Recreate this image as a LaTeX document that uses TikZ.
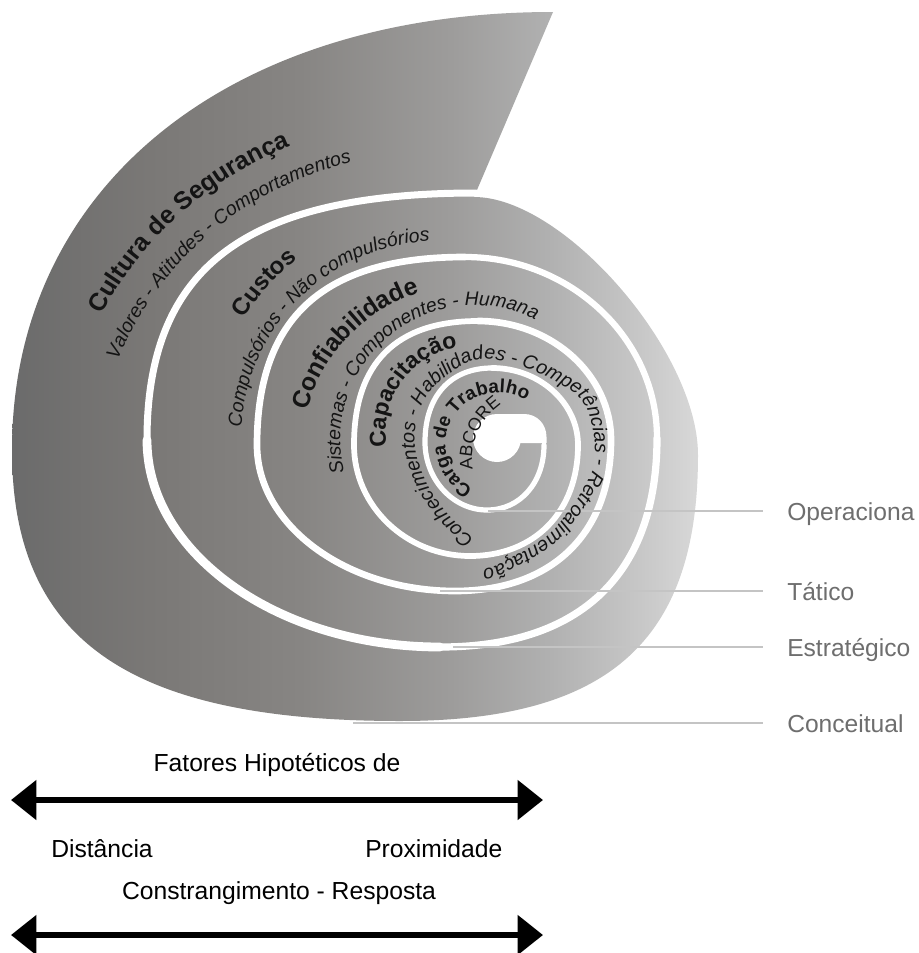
\documentclass[tikz,border=0pt]{standalone}
\usepackage{fontspec}
\setmainfont{Liberation Sans}
\usetikzlibrary{calc,decorations.text,arrows.meta}
\definecolor{gA}{HTML}{6B6B6B}
\definecolor{gB}{HTML}{7A7876}
\definecolor{gC}{HTML}{878583}
\definecolor{gD}{HTML}{9D9C9B}
\definecolor{gE}{HTML}{B0B0B0}
\definecolor{gF}{HTML}{C8C8C8}
\definecolor{gG}{HTML}{D8D8D8}
\definecolor{labgray}{HTML}{6E6E6E}
\definecolor{linegray}{HTML}{C4C4C4}
\definecolor{ink}{HTML}{141414}
\pgfdeclarehorizontalshading{spiralgray}{100bp}{color(0bp)=(gA); color(25bp)=(gA); color(35bp)=(gB); color(46bp)=(gC); color(57bp)=(gD); color(64bp)=(gE); color(71bp)=(gF); color(75bp)=(gG); color(100bp)=(gG)}
% quarter of an ellipse: from a point with horizontal tangent to one with vertical tangent
\newcommand{\qv}[3]{.. controls ($(#1)!#3!(#2|-#1)$) and ($(#2)!#3!(#2|-#1)$) .. (#2)}
% quarter of an ellipse: from a point with vertical tangent to one with horizontal tangent
\newcommand{\qh}[3]{.. controls ($(#1)!#3!(#1|-#2)$) and ($(#2)!#3!(#1|-#2)$) .. (#2)}
\newcommand{\fTa}{\bfseries\fontsize{18.75}{20}\selectfont}
\newcommand{\fSa}{\itshape\fontsize{14.5}{16}\selectfont}
\newcommand{\fTb}{\bfseries\fontsize{18}{20}\selectfont}
\newcommand{\fSb}{\itshape\fontsize{14.5}{16}\selectfont}
\newcommand{\fTc}{\bfseries\fontsize{18.5}{20}\selectfont}
\newcommand{\fSc}{\itshape\fontsize{14.5}{16}\selectfont}
\newcommand{\fTd}{\bfseries\fontsize{17.25}{19}\selectfont}
\newcommand{\fSd}{\itshape\fontsize{14.7}{16}\selectfont}
\newcommand{\fTe}{\bfseries\fontsize{14.2}{16}\selectfont}
\newcommand{\fSe}{\fontsize{13.3}{15}\selectfont}
\begin{document}
\begin{tikzpicture}[x=0.75pt,y=-0.75pt,
  wline/.style={draw=white, line cap=round},
  lbl/.style={draw=linegray, line width=0.8pt},
  lab/.style={text=labgray, font=\fontsize{18.45}{20}\selectfont, inner sep=0pt, anchor=base west},
  btext/.style={text=black, font=\fontsize{18.5}{20}\selectfont, inner sep=0pt, anchor=base},
  bigarrow/.style={line width=4.4pt, arrows={Triangle[length=19pt,width=29pt]-Triangle[length=19pt,width=29pt]}},
  curvetext/.style={decorate, decoration={text along path, text align=left, text color=ink, text={#1}}}
  ]
\useasboundingbox (0,0) rectangle (919,953);
\fill[white] (0,0) rectangle (919,953);
% ---------- outer boundary of the spiral ----------
\coordinate (tip) at (553,12);
\coordinate (OL) at (12,450);
\coordinate (OB) at (400,721);
\coordinate (OR) at (698,455);
\coordinate (OT) at (474,197);
\shade[shading=spiralgray] (tip) \qv{tip}{OL}{0.6} \qh{OL}{OB}{0.7} \qv{OB}{OR}{0.7} \qh{OR}{OT}{0.4} -- cycle;
% ---------- white spiral line ----------
\coordinate (T1) at (476,193);
\coordinate (L1) at (147,440);
\coordinate (B1) at (440,647);
\coordinate (R1) at (657,438);
\coordinate (T2) at (465,257);
\coordinate (L2) at (257,445);
\coordinate (B2) at (455,591);
\coordinate (R2) at (611,440);
\coordinate (T3) at (478,321);
\coordinate (L3) at (354,445);
\coordinate (B3) at (470,556);
\coordinate (R3) at (578,445);
\coordinate (T4) at (492,368);
\coordinate (L4) at (425,442);
\coordinate (B4) at (487,510);
\coordinate (R4) at (544,445);
\draw[wline, line width=5.25pt] (T1) \qv{T1}{L1}{0.7};
\draw[wline, line width=6.6pt] (L1) \qh{L1}{B1}{0.55};
\draw[wline, line width=5.4pt] (B1) \qv{B1}{R1}{0.65};
\draw[wline, line width=4.7pt] (R1) \qh{R1}{T2}{0.55};
\draw[wline, line width=5pt] (T2) \qv{T2}{L2}{0.68} \qh{L2}{B2}{0.55} \qv{B2}{R2}{0.62} \qh{R2}{T3}{0.55};
\draw[wline, line width=4.3pt] (T3) \qv{T3}{L3}{0.66} \qh{L3}{B3}{0.55} \qv{B3}{R3}{0.6} \qh{R3}{T4}{0.55};
\draw[wline, line width=3.9pt] (T4) \qv{T4}{L4}{0.62} \qh{L4}{B4}{0.55} \qv{B4}{R4}{0.58};
% ---------- central hole ----------
\coordinate (HC) at (497,438);
\fill[white] (HC) circle[radius=24];
\fill[white] (497,414) -- (524,414) .. controls (537,414) and (546.5,424) .. (546.5,437) -- (546.5,443) -- (497,443) -- cycle;
% ---------- level lines ----------
\coordinate (opA) at (488,511); \coordinate (opB) at (763,511);
\coordinate (taA) at (440,591); \coordinate (taB) at (763,591);
\coordinate (esA) at (453,647); \coordinate (esB) at (763,647);
\coordinate (coA) at (353,723); \coordinate (coB) at (763,723);
\draw[lbl] (opA) -- (opB);
\draw[lbl] (taA) -- (taB);
\draw[lbl] (esA) -- (esB);
\draw[lbl] (coA) -- (coB);
\node[lab] (op) at (787,520) {Operaciona};
\node[lab] (ta) at (787,600) {Tático};
\node[lab] (es) at (787,656) {Estratégico};
\node[lab] (co) at (787,732) {Conceitual};
% ---------- texts along the spiral ----------
\path[curvetext={|\fTa|Cultura de Segurança}] plot[domain=208.2:262, samples=80] ({427+369*cos(\x)},{489+369*sin(\x)});
\path[curvetext={|\fSa|Valores - Atitudes - Comportamentos}] plot[domain=202.6:272, samples=80] ({427+335*cos(\x)},{489+335*sin(\x)});
\path[curvetext={|\fTb|Custos}] plot[domain=211.6:245, samples=40] ({439+229*cos(\x)},{439+229*sin(\x)});
\path[curvetext={|\fSb|Compulsórios - Não compulsórios}] plot[domain=183.4:290, samples=80] ({439+198*cos(\x)},{439+198*sin(\x)});
\path[curvetext={|\fTc|Confiabilidade}] plot[domain=194:275, samples=60] ({469+166*cos(\x)},{451+166*sin(\x)});
\path[curvetext={|\fSc|Sistemas - Componentes - Humana}] plot[domain=166:315, samples=80] ({475+134.7*cos(\x)},{440+134.7*sin(\x)});
\path[curvetext={|\fTd|Capacitação}] plot[domain=170:280, samples=60] ({471+85.4*cos(\x)},{432+85.4*sin(\x)});
\path[curvetext={|\fSd|Conhecimentos - Habilidades - Competências - Retroalimentação}] plot[smooth, tension=0.6] coordinates {(474,539) (444.4,510.2) (424.1,477.8) (414.5,440.7) (422.6,403.4) (444,378.1) (478.5,359.3) (518.6,366.3) (549.3,378.4) (581.5,400.4) (593.6,434.1) (593.6,465.9) (584.1,487.4) (572.8,506) (546.9,536.3) (504.7,561.5) (485.8,568.5) (455,570) (430,566)};
\path[curvetext={|\fTe|Carga de Trabalho}] plot[domain=118.3:325, samples=80] ({495+(46.5+(\x-118.3)*0.05)*cos(\x)},{447+(46.5+(\x-118.3)*0.05)*sin(\x)});
\path[curvetext={|\fSe|ABCORE}] plot[domain=171.2:255, samples=40] ({538+66*cos(\x)},{459+66*sin(\x)});
% ---------- bottom scale ----------
\node[btext] (fat) at (277,771) {Fatores Hipotéticos de};
\coordinate (a1l) at (11,800); \coordinate (a1r) at (543,800);
\draw[bigarrow] (a1l) -- (a1r);
\node[btext, anchor=base west] (dis) at (51,857) {Distância};
\node[btext, anchor=base west] (pro) at (365,857) {Proximidade};
\node[btext] (con) at (279,899) {Constrangimento - Resposta};
\coordinate (a2l) at (11,935); \coordinate (a2r) at (543,935);
\draw[bigarrow] (a2l) -- (a2r);
\end{tikzpicture}
\end{document}
